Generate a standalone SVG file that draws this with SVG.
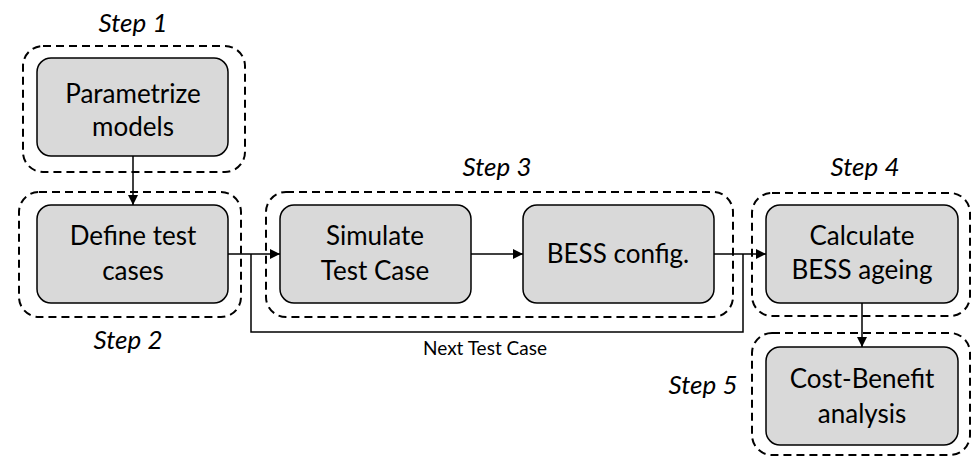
<svg xmlns="http://www.w3.org/2000/svg" width="973" height="457" viewBox="0 0 973 457">
<style>
.grp{fill:none;stroke:#000;stroke-width:2;stroke-dasharray:8 5}
.node{fill:#d9d9d9;stroke:#000;stroke-width:1.5}
.t{font-family:Lato,"Open Sans",sans-serif;font-size:26px;fill:#000;text-anchor:middle}
.s{font-family:Lato,"Open Sans",sans-serif;font-size:26px;font-style:italic;fill:#000;text-anchor:middle}
.lbl{font-family:Lato,"Open Sans",sans-serif;font-size:19px;fill:#000;text-anchor:middle}
.c{fill:none;stroke:#000;stroke-width:1.5}
</style>
<defs>
<marker id="ah" viewBox="0 0 10 10" refX="10" refY="5" markerWidth="10" markerHeight="10" markerUnits="userSpaceOnUse" orient="auto">
<path d="M0,0 L10,5 L0,10 z" fill="#000"/>
</marker>
</defs>
<g id="step1">
<rect class="grp" x="23" y="46" width="222" height="126" rx="20"/>
<text class="s" x="133" y="32">Step 1</text>
<g id="node-parametrize">
<rect class="node" x="37" y="58" width="191" height="98" rx="14"/>
<text class="t" x="133" y="103">Parametrize</text>
<text class="t" x="133" y="136">models</text>
</g>
</g>
<g id="step2">
<rect class="grp" x="19" y="192" width="222" height="125" rx="20"/>
<text class="s" x="128" y="349">Step 2</text>
<g id="node-define">
<rect class="node" x="37" y="205" width="191" height="98" rx="14"/>
<text class="t" x="133" y="245">Define test</text>
<text class="t" x="133" y="280">cases</text>
</g>
</g>
<g id="step3">
<rect class="grp" x="266" y="192" width="467" height="125" rx="20"/>
<text class="s" x="497" y="176">Step 3</text>
<g id="node-simulate">
<rect class="node" x="280" y="205" width="191" height="98" rx="14"/>
<text class="t" x="375" y="245">Simulate</text>
<text class="t" x="375" y="280">Test Case</text>
</g>
<g id="node-bess">
<rect class="node" x="523" y="205" width="191" height="98" rx="14"/>
<text class="t" x="618" y="263">BESS config.</text>
</g>
</g>
<g id="step4">
<rect class="grp" x="752" y="193" width="218" height="123" rx="20"/>
<text class="s" x="865" y="176">Step 4</text>
<g id="node-calculate">
<rect class="node" x="766" y="205" width="192" height="98" rx="14"/>
<text class="t" x="862" y="245">Calculate</text>
<text class="t" x="862" y="279">BESS ageing</text>
</g>
</g>
<g id="step5">
<rect class="grp" x="752" y="333" width="218" height="122" rx="20"/>
<text class="s" x="703" y="394">Step 5</text>
<g id="node-cost">
<rect class="node" x="766" y="347" width="192" height="98" rx="14"/>
<text class="t" x="862" y="388">Cost-Benefit</text>
<text class="t" x="862" y="423">analysis</text>
</g>
</g>
<g id="connectors">
<line class="c" x1="133" y1="156" x2="133" y2="205" marker-end="url(#ah)"/>
<line class="c" x1="228" y1="254" x2="280" y2="254" marker-end="url(#ah)"/>
<polyline class="c" points="251,254 251,332 743,332 743,254"/>
<line class="c" x1="471" y1="254" x2="523" y2="254" marker-end="url(#ah)"/>
<line class="c" x1="714" y1="254" x2="766" y2="254" marker-end="url(#ah)"/>
<line class="c" x1="862" y1="303" x2="862" y2="347" marker-end="url(#ah)"/>
<text class="lbl" x="485" y="355">Next Test Case</text>
</g>
</svg>
